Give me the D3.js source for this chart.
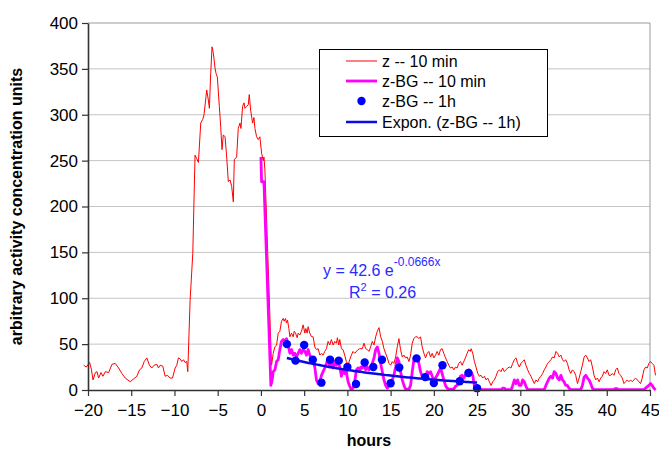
<!DOCTYPE html>
<html>
<head>
<meta charset="utf-8">
<script src="https://cdn.jsdelivr.net/npm/d3@7"></script>
<style>
  html, body { margin: 0; padding: 0; background: #ffffff; }
  svg { display: block; font-family: "Liberation Sans", Arial, sans-serif; }
</style>
</head>
<body>
<svg id="chart" width="659" height="454"></svg>
<script>
// z -- 10 min : [hours, value]
const zSeries = [
  [-20.5,27],[-20.2,25],[-19.81,30],[-19.6,22],[-19.42,11],[-19.15,19],[-18.96,20],[-18.77,13],[-18.5,19],[-18.27,15],
  [-18.0,20],[-17.61,19],[-17.23,28],[-16.85,29],[-16.46,24],[-16.08,18],[-15.69,13],[-15.12,9],[-14.73,12],[-14.35,15],
  [-14.04,22],[-13.77,24],[-13.5,31],[-13.2,35],[-12.89,27],[-12.62,24],[-12.35,27],[-12.04,28],[-11.85,24],[-11.65,27],
  [-11.35,26],[-11.08,15],[-10.81,16],[-10.5,13],[-10.23,13],[-9.92,24],[-9.73,27],[-9.54,35],[-9.35,34],[-9.15,31],
  [-8.96,33],[-8.77,30],[-8.58,31],[-8.46,20],[-8.19,98],[-7.88,149],[-7.62,256],[-7.42,252],[-7.23,248],[-6.96,291],
  [-6.73,295],[-6.58,300],[-6.35,320],[-6.27,327],[-6.08,316],[-5.96,307],[-5.81,345],[-5.65,374],[-5.5,367],[-5.31,351],
  [-5.19,345],[-5.04,341],[-4.81,309],[-4.65,287],[-4.5,262],[-4.35,278],[-4.15,276],[-3.96,254],[-3.77,227],[-3.58,229],
  [-3.38,222],[-3.19,205],[-3.08,251],[-2.81,254],[-2.62,285],[-2.42,291],[-2.31,285],[-2.12,309],[-1.96,313],[-1.85,307],
  [-1.65,309],[-1.46,311],[-1.35,322],[-1.19,305],[-0.96,291],[-0.81,297],[-0.69,285],[-0.5,276],[-0.31,273],[-0.12,276],
  [0.08,258],[0.27,250],[0.35,254],[0.46,240],[1.23,27],[1.42,40],[1.62,47],[1.81,49],[2.0,62],[2.19,64],
  [2.38,75],[2.58,78],[2.69,75],[2.85,78],[2.96,73],[3.08,76],[3.23,67],[3.35,58],[3.54,62],[3.73,58],
  [3.85,64],[4.0,62],[4.19,57],[4.31,62],[4.5,60],[4.69,64],[4.88,71],[5.08,62],[5.19,67],[5.35,62],
  [5.46,69],[5.65,62],[5.85,58],[6.04,58],[6.23,47],[6.42,44],[6.62,45],[6.81,38],[7.0,40],[7.19,38],
  [7.38,42],[7.58,45],[7.77,53],[7.96,49],[8.15,55],[8.35,49],[8.54,53],[8.73,51],[8.85,57],[9.0,49],
  [9.12,55],[9.31,45],[9.5,44],[9.69,38],[9.88,31],[10.08,27],[10.27,33],[10.46,38],[10.65,42],[10.85,40],
  [11.23,44],[11.42,45],[11.73,45],[11.92,51],[12.12,45],[12.31,44],[12.5,42],[12.69,47],[12.88,53],[13.08,49],
  [13.27,58],[13.46,64],[13.66,68],[13.85,58],[14.04,53],[14.23,45],[14.42,40],[14.62,35],[14.81,29],[15.0,27],
  [15.19,31],[15.38,29],[15.58,36],[15.77,47],[15.96,56],[16.15,44],[16.35,36],[16.54,38],[16.73,35],[16.92,36],
  [17.12,31],[17.31,38],[17.5,51],[17.69,56],[17.88,58],[18.08,58],[18.27,56],[18.46,58],[18.65,47],[18.85,40],
  [19.04,35],[19.23,40],[19.42,42],[19.62,36],[19.81,40],[20.0,35],[20.19,38],[20.38,42],[20.58,38],[20.77,44],
  [20.96,45],[21.15,40],[21.35,35],[21.54,31],[21.73,27],[21.92,24],[22.12,25],[22.31,22],[22.5,25],[22.69,24],
  [22.88,29],[23.08,31],[23.27,27],[23.46,31],[23.65,35],[23.85,40],[24.04,44],[24.23,42],[24.31,45],[24.5,40],
  [24.69,31],[24.88,25],[25.08,18],[25.27,15],[25.46,16],[25.65,13],[25.85,15],[26.04,11],[26.23,13],[26.42,9],
  [26.62,5],[26.81,9],[27.0,11],[27.19,15],[27.38,20],[27.58,22],[27.77,20],[27.96,24],[28.15,20],[28.35,22],
  [28.54,24],[28.73,25],[28.92,24],[29.12,29],[29.31,33],[29.5,35],[29.69,29],[29.88,25],[30.08,29],[30.27,31],
  [30.46,33],[30.65,27],[30.85,22],[31.04,18],[31.23,15],[31.42,11],[31.62,7],[31.81,11],[32.0,9],[32.19,13],
  [32.38,15],[32.58,18],[32.77,22],[32.96,25],[33.15,29],[33.35,31],[33.54,33],[33.73,36],[33.92,35],[34.12,42],
  [34.31,40],[34.5,36],[34.69,38],[34.88,33],[35.06,31],[35.25,33],[35.45,29],[35.64,22],[35.83,18],[36.03,22],
  [36.22,20],[36.41,16],[36.61,7],[36.8,13],[36.99,20],[37.18,27],[37.38,36],[37.57,38],[37.76,35],[37.95,31],
  [38.14,33],[38.34,25],[38.53,16],[38.72,11],[38.91,13],[39.11,9],[39.3,13],[39.49,15],[39.68,20],[39.87,18],
  [40.06,22],[40.26,16],[40.45,16],[40.64,18],[40.83,16],[41.03,22],[41.22,24],[41.41,18],[41.6,16],[41.79,13],
  [41.99,7],[42.18,9],[42.37,11],[42.56,9],[42.76,11],[42.95,9],[43.14,11],[43.33,13],[43.53,11],[43.72,9],
  [43.91,7],[44.1,13],[44.3,22],[44.49,25],[44.68,24],[44.87,29],[45.06,31],[45.25,29],[45.45,27],[45.64,16]
];

// z-BG -- 10 min : [hours, value]
const zbgSeries = [
  [0,254],[0.08,227],[0.35,227],[1.15,5],[1.3,11],[1.42,20],[1.62,22],[1.81,31],[2.0,33],[2.19,44],
  [2.38,53],[2.58,55],[2.77,53],[2.96,56],[3.15,49],[3.35,40],[3.54,44],[3.73,38],[3.92,40],[4.12,36],
  [4.31,40],[4.5,44],[4.69,40],[4.88,44],[5.08,42],[5.27,38],[5.46,44],[5.65,38],[5.85,35],[6.04,31],
  [6.23,25],[6.42,11],[6.62,7],[6.81,9],[7.0,16],[7.19,20],[7.38,24],[7.58,29],[7.77,35],[7.96,25],
  [8.15,29],[8.35,24],[8.54,31],[8.73,27],[8.92,31],[9.12,25],[9.31,15],[9.5,22],[9.69,18],[9.88,20],
  [10.08,9],[10.27,4],[10.46,0.5],[10.65,2],[10.85,9],[11.04,22],[11.23,24],[11.42,20],[11.54,25],[11.73,24],
  [11.92,27],[12.12,22],[12.31,25],[12.5,22],[12.69,25],[12.88,29],[13.08,35],[13.27,44],[13.46,47],[13.66,40],
  [13.85,29],[14.04,20],[14.23,11],[14.42,5],[14.62,2],[14.81,5],[15.0,7],[15.19,11],[15.38,16],[15.58,25],
  [15.77,35],[15.96,31],[16.15,20],[16.35,11],[16.54,5],[16.73,1],[17.12,1],[17.31,5],[17.5,20],[17.69,33],
  [17.88,36],[18.08,35],[18.27,29],[18.46,20],[18.65,15],[18.85,16],[19.04,13],[19.23,20],[19.42,18],[19.62,20],
  [19.81,15],[20.0,11],[20.19,13],[20.38,16],[20.58,20],[20.77,24],[20.96,18],[21.15,11],[21.35,5],[21.54,2],
  [21.73,1],[22.31,1],[22.5,4],[22.69,5],[22.88,9],[23.08,15],[23.27,16],[23.46,13],[23.65,16],[23.85,20],
  [24.04,22],[24.23,21],[24.5,16],[24.69,5],[24.88,0.5],[27.8,0.5],[27.96,2],[28.15,2],[28.3,0.5],[28.95,0.5],
  [29.12,5],[29.31,11],[29.5,7],[29.69,11],[29.88,5],[30.08,5],[30.27,11],[30.46,9],[30.65,4],[30.85,0.5],
  [32.77,0.5],[32.96,5],[33.15,9],[33.35,13],[33.54,15],[33.73,13],[33.92,20],[34.12,18],[34.31,13],[34.5,11],
  [34.69,16],[34.88,11],[35.06,9],[35.25,5],[35.45,5],[35.64,2],[35.83,0.5],[36.99,0.5],[37.18,5],[37.38,14],
  [37.57,16],[37.76,13],[37.95,11],[38.14,7],[38.34,2],[38.53,0.5],[40.8,0.5],[40.95,1.5],[41.2,1.5],[41.35,0.5],
  [44.3,0.5],[44.49,2],[44.87,5],[45.06,7],[45.25,5],[45.45,2],[45.64,0]
];

// z-BG -- 1h hourly points
const hourlyHours  = [3, 4, 5, 6, 7, 8, 9, 10, 11, 12, 13, 14, 15, 16, 18, 19, 20, 21, 23, 24, 25];
const hourlyValues = [50, 32, 49, 33, 8, 33, 32, 25, 6.5, 30, 25, 33, 7.3, 24.5, 34.5, 14, 7.5, 27, 9.5, 18.5, 2];

// exponential trend y = a * e^(b x), fitted over the hourly points
const trendA = 42.6;
const trendB = -0.0666;
const trendRange = [3, 25];
const trendR2 = "0.26";

const xTicks = [-20, -15, -10, -5, 0, 5, 10, 15, 20, 25, 30, 35, 40, 45];
const yTicks = [0, 50, 100, 150, 200, 250, 300, 350, 400];

const legendLabels = ["z -- 10 min", "z-BG -- 10 min", "z-BG -- 1h", "Expon. (z-BG -- 1h)"];

const svg = d3.select("#chart");
const plot = { left: 88, right: 650, top: 23, bottom: 390 };

const x = d3.scaleLinear().domain([-20, 45]).range([plot.left, plot.right]);
const y = d3.scaleLinear().domain([0, 400]).range([plot.bottom, plot.top]);

// horizontal gridlines
svg.append("g").selectAll("line")
  .data(yTicks.filter(d => d > 0))
  .join("line")
  .attr("x1", plot.left).attr("x2", plot.right)
  .attr("y1", d => y(d)).attr("y2", d => y(d))
  .attr("stroke", d => d === 400 ? "#9a9a9a" : "#c4c4c4")
  .attr("stroke-width", 1);

// right border of the plot area
svg.append("line")
  .attr("x1", plot.right).attr("x2", plot.right)
  .attr("y1", plot.top).attr("y2", plot.bottom)
  .attr("stroke", "#9a9a9a").attr("stroke-width", 1);

const line = d3.line().x(d => x(d[0])).y(d => y(d[1]));

svg.append("path").datum(zSeries)
  .attr("d", line).attr("fill", "none")
  .attr("stroke", "#ff0000").attr("stroke-width", 1).attr("stroke-linejoin", "round");

svg.append("path").datum(zbgSeries)
  .attr("d", line).attr("fill", "none")
  .attr("stroke", "#ff00ff").attr("stroke-width", 2.8).attr("stroke-linejoin", "round");

svg.append("g").selectAll("circle")
  .data(hourlyHours.map((h, i) => [h, hourlyValues[i]]))
  .join("circle")
  .attr("cx", d => x(d[0])).attr("cy", d => y(d[1]))
  .attr("r", 4.2).attr("fill", "#0000ff");

const trendPts = d3.range(trendRange[0], trendRange[1] + 0.001, 0.25)
  .map(h => [h, trendA * Math.exp(trendB * h)]);
svg.append("path").datum(trendPts)
  .attr("d", line).attr("fill", "none")
  .attr("stroke", "#0a0ae6").attr("stroke-width", 2.5);

// axes
const yAxis = d3.axisLeft(y).tickValues(yTicks).tickSizeInner(6).tickSizeOuter(0).tickPadding(4);
const gy = svg.append("g").attr("transform", `translate(${plot.left},0)`).call(yAxis);
const xAxis = d3.axisBottom(x).tickValues(xTicks).tickSizeInner(6).tickSizeOuter(0).tickPadding(8);
const gx = svg.append("g").attr("transform", `translate(0,${plot.bottom})`).call(xAxis);

[gy, gx].forEach(g => {
  g.select(".domain").attr("stroke", "#333").attr("stroke-width", 1.6);
  g.selectAll(".tick line").attr("stroke", "#333").attr("stroke-width", 1.2);
  g.selectAll(".tick text").attr("fill", "#000").style("font-size", "17px")
    .style("font-family", "'Liberation Sans', Arial, sans-serif");
});

// axis titles
svg.append("text")
  .attr("x", 369).attr("y", 446)
  .attr("text-anchor", "middle")
  .style("font-size", "16px").style("font-weight", "bold")
  .text("hours");

svg.append("text")
  .attr("transform", `translate(22,${(plot.top + plot.bottom) / 2}) rotate(-90)`)
  .attr("text-anchor", "middle")
  .style("font-size", "16px").style("font-weight", "bold")
  .text("arbitrary activity concentration units");

// trend equation
const eq = svg.append("text").attr("x", 323).attr("y", 276)
  .attr("fill", "#2a2aff").style("font-size", "16px");
eq.append("tspan").text(`y = ${trendA} e`);
eq.append("tspan").attr("dy", -10).style("font-size", "12px").text(trendB.toString());
eq.append("tspan").attr("dy", 0).style("font-size", "12px").text("x");

const r2 = svg.append("text").attr("x", 349).attr("y", 298)
  .attr("fill", "#2a2aff").style("font-size", "16px");
r2.append("tspan").text("R");
r2.append("tspan").attr("dy", -7).style("font-size", "11px").text("2");
r2.append("tspan").attr("dy", 7).text(` = ${trendR2}`);

// legend
const lg = svg.append("g");
lg.append("rect")
  .attr("x", 319.5).attr("y", 49.5).attr("width", 228).attr("height", 87)
  .attr("fill", "#fff").attr("stroke", "#000").attr("stroke-width", 1);

const rowY = [61, 81, 101, 122];
const swX = [346, 377];
const rows = lg.selectAll("g.row").data(legendLabels).join("g").attr("class", "row");
rows.append("text")
  .attr("x", 382).attr("y", (d, i) => rowY[i] + 6)
  .style("font-size", "16px").attr("fill", "#000")
  .text(d => d);

lg.append("line").attr("x1", swX[0]).attr("x2", swX[1]).attr("y1", rowY[0]).attr("y2", rowY[0])
  .attr("stroke", "#ff0000").attr("stroke-width", 1);
lg.append("line").attr("x1", swX[0]).attr("x2", swX[1]).attr("y1", rowY[1]).attr("y2", rowY[1])
  .attr("stroke", "#ff00ff").attr("stroke-width", 2.8);
lg.append("circle").attr("cx", (swX[0] + swX[1]) / 2).attr("cy", rowY[2]).attr("r", 4.2).attr("fill", "#0000ff");
lg.append("line").attr("x1", swX[0]).attr("x2", swX[1]).attr("y1", rowY[3]).attr("y2", rowY[3])
  .attr("stroke", "#0a0ae6").attr("stroke-width", 2.5);
</script>
</body>
</html>
